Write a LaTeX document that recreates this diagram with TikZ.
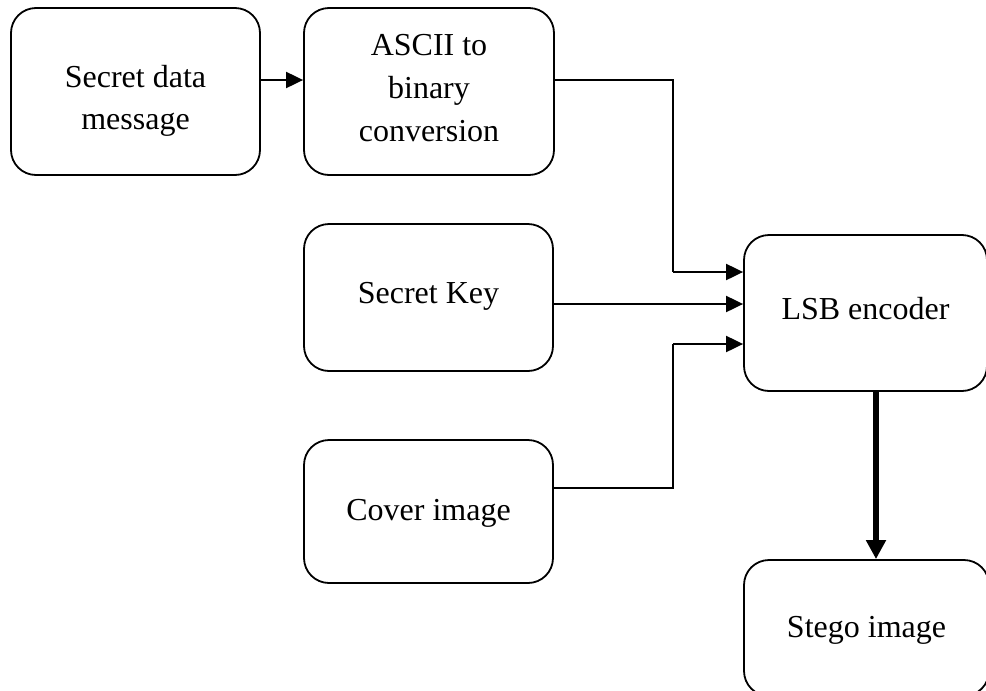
\documentclass[tikz,border=0pt]{standalone}
\usepackage{fontspec}
\setmainfont{Liberation Serif}
\usetikzlibrary{arrows.meta}
\begin{document}
\begin{tikzpicture}[x=1pt,y=-1pt,
  box/.style={draw,line width=1.8pt,rounded corners=25pt,inner sep=0pt},
  boxtext/.style={font=\fontsize{32}{42}\selectfont,align=center,inner sep=0pt},
  conn/.style={line width=2pt,-{Triangle[length=17pt,width=16pt]}},
  plain conn/.style={line width=2pt},
  thick conn/.style={line width=5.5pt,-{Triangle[length=19pt,width=19pt]}}]
\useasboundingbox (0,0) rectangle (986,691);
\node[box,minimum width=249pt,minimum height=167pt,
  label={[boxtext,yshift=-9pt]center:Secret data\\message}] (msg) at (135.5,91.5) {};
\node[box,minimum width=250pt,minimum height=167pt,
  label={[boxtext,font=\fontsize{32}{43}\selectfont,yshift=3pt]center:ASCII to\\binary\\conversion}] (ascii) at (429,91.5) {};
\node[box,minimum width=249pt,minimum height=147pt,
  label={[boxtext,yshift=1pt]center:Secret Key}] (key) at (428.5,297.5) {};
\node[box,minimum width=249pt,minimum height=143pt,
  label={[boxtext,yshift=-2pt]center:Cover image}] (cover) at (428.5,511.5) {};
\node[box,minimum width=243pt,minimum height=156pt,
  label={[boxtext,yshift=4pt]center:LSB encoder}] (lsb) at (865.5,313) {};
\node[box,minimum width=245pt,minimum height=136pt,
  label={[boxtext,yshift=-2pt]center:Stego image}] (stego) at (866.5,628) {};
\coordinate (a1) at (673,80);
\coordinate (a2) at (673,272);
\coordinate (c1) at (673,488);
\coordinate (c2) at (673,344);
\coordinate (t1) at (876,0);
\draw[conn] (msg.east |- 0,80) -- (ascii.west |- 0,80);
\draw[plain conn] (ascii.east |- a1) -- (a1) -- (a2);
\draw[conn] (a2) -- (lsb.west |- a2);
\draw[conn] (key.east |- 0,304) -- (lsb.west |- 0,304);
\draw[plain conn] (cover.east |- c1) -- (c1) -- (c2);
\draw[conn] (c2) -- (lsb.west |- c2);
\draw[thick conn] (lsb.south -| t1) -- (stego.north -| t1);
\end{tikzpicture}
\end{document}
